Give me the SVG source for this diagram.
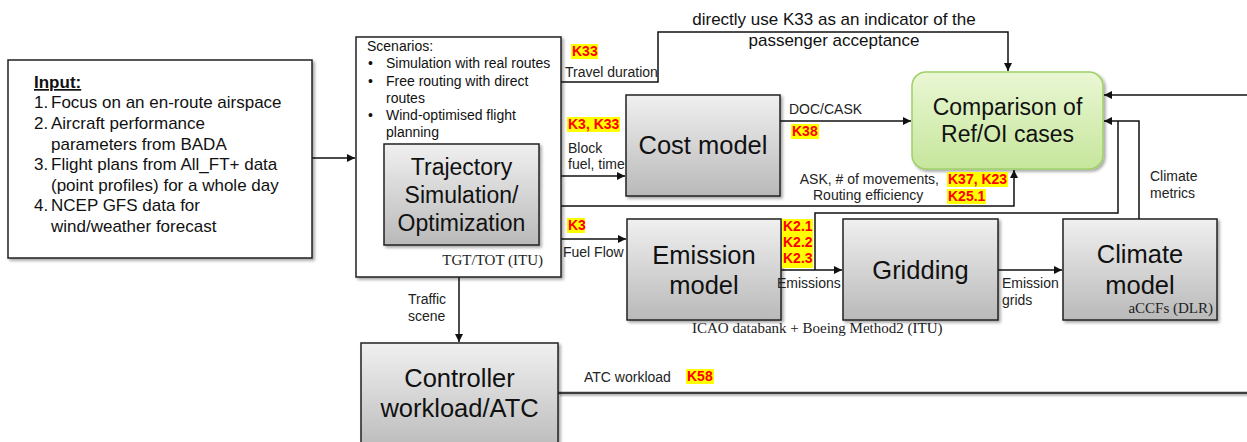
<svg xmlns="http://www.w3.org/2000/svg" width="1247" height="442" viewBox="0 0 1247 442">
  <defs>
    <linearGradient id="gray" x1="0" y1="0" x2="0" y2="1">
      <stop offset="0" stop-color="#f0f0f0"/>
      <stop offset="1" stop-color="#b9b9b9"/>
    </linearGradient>
    <linearGradient id="green" x1="0" y1="0" x2="0" y2="1">
      <stop offset="0" stop-color="#eaf7d4"/>
      <stop offset="1" stop-color="#c6e69c"/>
    </linearGradient>
    <filter id="shadow" x="-10%" y="-10%" width="130%" height="130%">
      <feDropShadow dx="2" dy="2" stdDeviation="1.5" flood-color="#000" flood-opacity="0.35"/>
    </filter>
    <marker id="arrow" viewBox="0 0 10 10" refX="10" refY="5" markerWidth="8" markerHeight="8" markerUnits="userSpaceOnUse" orient="auto">
      <path d="M0,0 L10,5 L0,10 z" fill="#111"/>
    </marker>
    <style>
      .box { stroke: #222; stroke-width: 1.5; filter: url(#shadow); }
      .plain { fill: #fff; }
      .grey { fill: url(#gray); }
      .big { font-family: "Liberation Sans", Arial, sans-serif; font-size: 25.5px; fill: #111; text-anchor: middle; }
      .mid { font-family: "Liberation Sans", Arial, sans-serif; font-size: 23px; fill: #111; text-anchor: middle; }
      .lbl { font-family: "Liberation Sans", Arial, sans-serif; font-size: 14px; fill: #222; }
      .lst { font-family: "Liberation Sans", Arial, sans-serif; font-size: 17px; fill: #111; }
      .scn { font-family: "Liberation Sans", Arial, sans-serif; font-size: 14px; fill: #111; }
      .ser { font-family: "Liberation Serif", "Times New Roman", serif; font-size: 15px; fill: #222; }
      .kpi { font-family: "Liberation Sans", Arial, sans-serif; font-size: 14px; font-weight: bold; fill: #ff0000; }
      .hl { fill: #ffff00; }
      .wire { fill: none; stroke: #111; stroke-width: 1.5; }
      .arr { marker-end: url(#arrow); }
    </style>
  </defs>

  <rect width="1247" height="442" fill="#fff"/>

  <!-- connectors -->
  <g id="connectors">
    <path class="wire arr" d="M312,158 H355"/>
    <path class="wire arr" d="M561,82 H658 V32 H1008 V71"/>
    <path class="wire arr" d="M561,176 H625"/>
    <path class="wire arr" d="M561,206 H1014 V170"/>
    <path class="wire arr" d="M561,239 H626"/>
    <path class="wire arr" d="M780,121 H911"/>
    <path class="wire arr" d="M781,270 H842"/>
    <path class="wire" d="M815,270 V213 H1118 V121"/>
    <path class="wire arr" d="M998,270 H1062"/>
    <path class="wire arr" d="M1139,219 V121 H1104"/>
    <path class="wire arr" d="M1247,95 H1104"/>
    <path class="wire arr" d="M459,277 V342"/>
    <!-- ATC workload line with its soft shadow -->
    <path d="M560,395.5 H1247" fill="none" stroke="#cfcfcf" stroke-width="2"/>
    <path d="M558,393 H1247" fill="none" stroke="#3c3c3c" stroke-width="2.5"/>
  </g>

  <!-- input data -->
  <g id="input">
    <rect class="box plain" x="8" y="60" width="304" height="198"/>
    <text class="lst" x="34" y="88" font-weight="bold" text-decoration="underline">Input:</text>
    <text class="lst" x="34" y="108">1.</text>
    <text class="lst" x="51" y="108">Focus on an en-route airspace</text>
    <text class="lst" x="34" y="129">2.</text>
    <text class="lst" x="51" y="129">Aircraft performance</text>
    <text class="lst" x="51" y="150">parameters from BADA</text>
    <text class="lst" x="34" y="170">3.</text>
    <text class="lst" x="51" y="170">Flight plans from All_FT+ data</text>
    <text class="lst" x="51" y="191">(point profiles) for a whole day</text>
    <text class="lst" x="34" y="211">4.</text>
    <text class="lst" x="51" y="211">NCEP GFS data for</text>
    <text class="lst" x="51" y="232">wind/weather forecast</text>
  </g>

  <!-- trajectory tool with scenarios -->
  <g id="trajectory">
    <rect class="box plain" x="356" y="37" width="205" height="240"/>
    <text class="scn" x="367" y="51">Scenarios:</text>
    <text class="scn" x="368" y="68">•</text>
    <text class="scn" x="386" y="68">Simulation with real routes</text>
    <text class="scn" x="368" y="86">•</text>
    <text class="scn" x="386" y="86">Free routing with direct</text>
    <text class="scn" x="386" y="103">routes</text>
    <text class="scn" x="368" y="120">•</text>
    <text class="scn" x="386" y="120">Wind-optimised flight</text>
    <text class="scn" x="386" y="137">planning</text>
    <rect class="box grey" x="384" y="144" width="155" height="101"/>
    <text class="mid" x="461.5" y="175">Trajectory</text>
    <text class="mid" x="461.5" y="203">Simulation/</text>
    <text class="mid" x="461.5" y="231">Optimization</text>
    <text class="ser" x="543" y="265" text-anchor="end">TGT/TOT (ITU)</text>
  </g>

  <!-- cost model -->
  <g id="cost">
    <rect class="box grey" x="626" y="95" width="154" height="101"/>
    <text class="big" x="703" y="154">Cost model</text>
  </g>

  <!-- comparison -->
  <g id="comparison">
    <rect x="912" y="72" width="191" height="97" rx="14" fill="url(#green)" stroke="#9fcf67" stroke-width="1.5" filter="url(#shadow)"/>
    <text class="mid" x="1007.5" y="115">Comparison of</text>
    <text class="mid" x="1007.5" y="142">Ref/OI cases</text>
  </g>

  <!-- emission model -->
  <g id="emission">
    <rect class="box grey" x="627" y="219" width="154" height="101"/>
    <text class="big" x="704" y="264">Emission</text>
    <text class="big" x="704" y="294">model</text>
    <text class="ser" x="692" y="333">ICAO databank + Boeing Method2 (ITU)</text>
  </g>

  <!-- gridding -->
  <g id="gridding">
    <rect class="box grey" x="843" y="219" width="155" height="101"/>
    <text class="big" x="920.5" y="279">Gridding</text>
  </g>

  <!-- climate model -->
  <g id="climate">
    <rect class="box grey" x="1063" y="219" width="154" height="101"/>
    <text class="big" x="1140" y="263">Climate</text>
    <text class="big" x="1140" y="294">model</text>
    <text class="ser" x="1213" y="313" text-anchor="end" font-size="14.5">aCCFs (DLR)</text>
  </g>

  <!-- controller workload -->
  <g id="controller">
    <rect class="box grey" x="361" y="343" width="197" height="110"/>
    <text class="big" x="459.5" y="387">Controller</text>
    <text class="big" x="459.5" y="417">workload/ATC</text>
  </g>

  <!-- connector labels and KPIs -->
  <g id="labels">
    <text class="lst" x="834" y="25" text-anchor="middle">directly use K33 as an indicator of the</text>
    <text class="lst" x="834" y="46" text-anchor="middle">passenger acceptance</text>

    <rect class="hl" x="571" y="44" width="27" height="15"/>
    <text class="kpi" x="572" y="56">K33</text>
    <text class="lbl" x="565" y="77">Travel duration</text>

    <rect class="hl" x="567" y="117" width="53" height="15"/>
    <text class="kpi" x="568" y="129">K3, K33</text>
    <text class="lbl" x="568" y="153">Block</text>
    <text class="lbl" x="568" y="169">fuel, time</text>

    <rect class="hl" x="567" y="218" width="18" height="15"/>
    <text class="kpi" x="568" y="230">K3</text>
    <text class="lbl" x="563" y="257">Fuel Flow</text>

    <text class="lbl" x="789" y="114">DOC/CASK</text>
    <rect class="hl" x="791" y="124" width="28" height="15"/>
    <text class="kpi" x="792" y="136">K38</text>

    <text class="lbl" x="939" y="184" text-anchor="end">ASK, # of movements,</text>
    <text class="lbl" x="813" y="200">Routing efficiency</text>
    <rect class="hl" x="947" y="172" width="61" height="15"/>
    <text class="kpi" x="948" y="184">K37, K23</text>
    <rect class="hl" x="947" y="189" width="39" height="15"/>
    <text class="kpi" x="948" y="201">K25.1</text>

    <rect class="hl" x="782" y="219" width="31" height="49"/>
    <text class="kpi" x="783" y="231">K2.1</text>
    <text class="kpi" x="783" y="247">K2.2</text>
    <text class="kpi" x="783" y="263">K2.3</text>
    <text class="lbl" x="777" y="288">Emissions</text>

    <text class="lbl" x="1002" y="288">Emission</text>
    <text class="lbl" x="1002" y="305">grids</text>

    <text class="lbl" x="1150" y="181">Climate</text>
    <text class="lbl" x="1150" y="198">metrics</text>

    <text class="lbl" x="408" y="304">Traffic</text>
    <text class="lbl" x="408" y="321">scene</text>

    <text class="lbl" x="584" y="382">ATC workload</text>
    <rect class="hl" x="686" y="369" width="28" height="15"/>
    <text class="kpi" x="687" y="381">K58</text>
  </g>
</svg>
